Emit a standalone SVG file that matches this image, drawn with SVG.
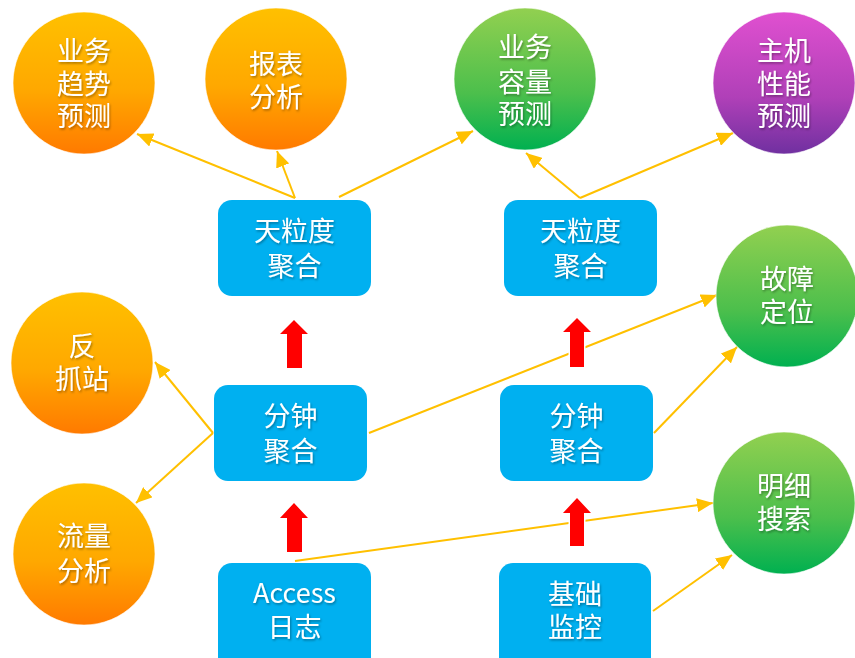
<svg xmlns="http://www.w3.org/2000/svg" width="855" height="658" viewBox="0 0 855 658">
<defs>
<linearGradient id="gO" x1="0" y1="0" x2="0" y2="1"><stop offset="0" stop-color="#FFC000"/><stop offset="0.55" stop-color="#FFA800"/><stop offset="1" stop-color="#FF7A00"/></linearGradient>
<linearGradient id="gG" x1="0" y1="0" x2="0" y2="1"><stop offset="0" stop-color="#92D050"/><stop offset="0.6" stop-color="#4CBF4C"/><stop offset="1" stop-color="#00B050"/></linearGradient>
<linearGradient id="gP" x1="0" y1="0" x2="0" y2="1"><stop offset="0" stop-color="#E050D0"/><stop offset="0.6" stop-color="#B040B8"/><stop offset="1" stop-color="#7030A0"/></linearGradient>
<filter id="ts" x="-10%" y="-20%" width="130%" height="150%"><feDropShadow dx="1" dy="1.5" stdDeviation="1.2" flood-color="#000" flood-opacity="0.35"/></filter>
<marker id="ah" viewBox="0 0 10 10" refX="9" refY="5" markerWidth="8" markerHeight="8" markerUnits="userSpaceOnUse" orient="auto">
<path d="M0,0 L10,5 L0,10 z" fill="#FFC000"/>
</marker>
<marker id="ah2" viewBox="0 0 16 14" refX="16" refY="7" markerWidth="16" markerHeight="14" markerUnits="userSpaceOnUse" orient="auto">
<path d="M0,0 L16,7 L0,14 z" fill="#FFC000"/>
</marker>
</defs>
<style>
.c{stroke:#FFFFFF;stroke-opacity:0.6;stroke-width:1}
.b{fill:#00B0F0}
.t{font-family:"Noto Sans CJK SC","Noto Sans",sans-serif;font-size:27px;fill:#FFFFFF;text-anchor:middle;filter:url(#ts)}
.ln{fill:none;stroke:#FFC000;stroke-width:2;marker-end:url(#ah2)}
.ra{fill:#FF0000;stroke:#FFFFFF;stroke-width:3;paint-order:stroke}
</style>
<rect width="855" height="658" fill="#FFFFFF"/>

<g id="connectors">
<polyline class="ln" points="295,198 137,134"/>
<polyline class="ln" points="295,198 277,151"/>
<polyline class="ln" points="339,197 473,131"/>
<polyline class="ln" points="580,198 526,153"/>
<polyline class="ln" points="580,198 733,133"/>
<polyline class="ln" points="213,433 155,362"/>
<polyline class="ln" points="213,433 136,503"/>
<polyline class="ln" points="369,433 717,295"/>
<polyline class="ln" points="654,433 737,347"/>
<polyline class="ln" points="295,561 713,503"/>
<polyline class="ln" points="653,611 732,555"/>
<path class="ra" d="M294,320 L308,334 L302,334 L302,368 L287,368 L287,334 L280,334 z"/>
<path class="ra" d="M577,318 L591,332 L584,332 L584,367 L570,367 L570,332 L563,332 z"/>
<path class="ra" d="M294,503 L308,518 L302,518 L302,552 L287,552 L287,518 L280,518 z"/>
<path class="ra" d="M577,498 L591,513 L584,513 L584,546 L570,546 L570,513 L563,513 z"/>
</g>

<g id="n_yewuqushi"><circle class="c" cx="84" cy="83" r="71" fill="url(#gO)"/>
<text class="t" x="84" y="61">业务</text><text class="t" x="84" y="94">趋势</text><text class="t" x="84" y="126">预测</text></g>
<g id="n_baobiao"><circle class="c" cx="276" cy="79" r="71" fill="url(#gO)"/>
<text class="t" x="276" y="74">报表</text><text class="t" x="276" y="107">分析</text></g>
<g id="n_rongliang"><circle class="c" cx="525" cy="79" r="71" fill="url(#gG)"/>
<text class="t" x="525" y="57">业务</text><text class="t" x="525" y="92">容量</text><text class="t" x="525" y="124">预测</text></g>
<g id="n_zhuji"><circle class="c" cx="784" cy="83" r="71" fill="url(#gP)"/>
<text class="t" x="784" y="61">主机</text><text class="t" x="784" y="94">性能</text><text class="t" x="784" y="126">预测</text></g>
<g id="n_guzhang"><circle class="c" cx="787" cy="296" r="71" fill="url(#gG)"/>
<text class="t" x="787" y="289">故障</text><text class="t" x="787" y="322">定位</text></g>
<g id="n_fanzhua"><circle class="c" cx="82" cy="363" r="71" fill="url(#gO)"/>
<text class="t" x="82" y="356">反</text><text class="t" x="82" y="389">抓站</text></g>
<g id="n_liuliang"><circle class="c" cx="84" cy="554" r="71" fill="url(#gO)"/>
<text class="t" x="84" y="546">流量</text><text class="t" x="84" y="581">分析</text></g>
<g id="n_mingxi"><circle class="c" cx="784" cy="503" r="71" fill="url(#gG)"/>
<text class="t" x="784" y="496">明细</text><text class="t" x="784" y="529">搜索</text></g>

<g id="n_tian1"><rect class="b" x="218" y="200" width="153" height="96" rx="14"/>
<text class="t" x="294.5" y="241">天粒度</text><text class="t" x="294.5" y="276">聚合</text></g>
<g id="n_tian2"><rect class="b" x="504" y="200" width="153" height="96" rx="14"/>
<text class="t" x="580.5" y="241">天粒度</text><text class="t" x="580.5" y="276">聚合</text></g>
<g id="n_fen1"><rect class="b" x="214" y="385" width="153" height="96" rx="14"/>
<text class="t" x="290.5" y="426">分钟</text><text class="t" x="290.5" y="461">聚合</text></g>
<g id="n_fen2"><rect class="b" x="500" y="385" width="153" height="96" rx="14"/>
<text class="t" x="576.5" y="426">分钟</text><text class="t" x="576.5" y="461">聚合</text></g>
<g id="n_access"><rect class="b" x="218" y="563" width="153" height="110" rx="14"/>
<text class="t" x="294.5" y="603">Access</text><text class="t" x="294.5" y="637">日志</text></g>
<g id="n_jichu"><rect class="b" x="499" y="563" width="152" height="110" rx="14"/>
<text class="t" x="575" y="604">基础</text><text class="t" x="575" y="637">监控</text></g>
</svg>
